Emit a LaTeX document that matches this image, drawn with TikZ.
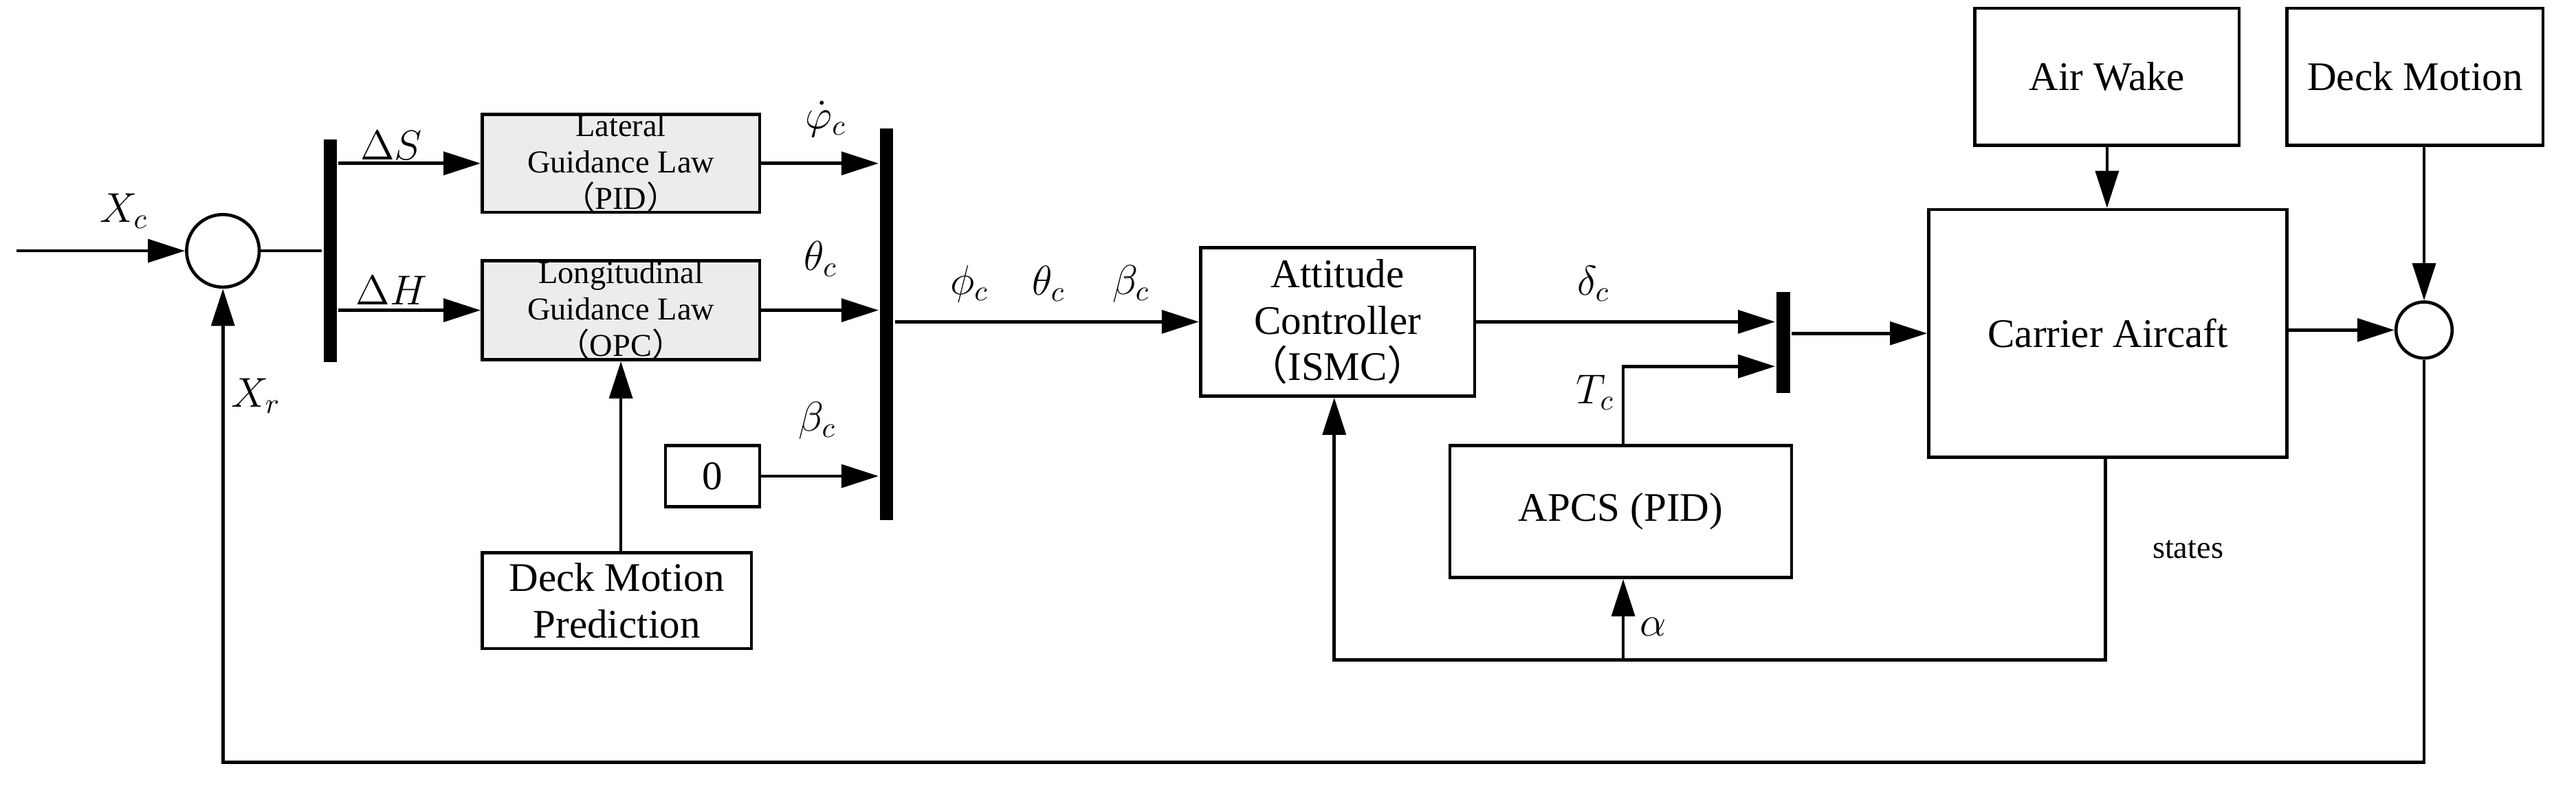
\documentclass[tikz,border=0pt]{standalone}
\usepackage{fontspec}
\setmainfont{Liberation Serif}
\newfontfamily\cjk{Noto Sans CJK SC}
\newcommand{\lp}{{\cjk （}}
\newcommand{\rp}{{\cjk ）}}
\usetikzlibrary{arrows.meta,positioning}
\begin{document}
\begin{tikzpicture}[x=0.02cm,y=-0.02cm,line width=1.1pt,
  blk/.style={draw,rectangle,inner sep=0pt,font=\fontsize{14}{16}\selectfont,align=center},
  gblk/.style={blk,fill=gray!15,font=\fontsize{11}{12.5}\selectfont},
  bar/.style={fill=black,draw=none,inner sep=0pt},
  sum/.style={draw,circle,inner sep=0pt},
  lab/.style={font=\fontsize{14}{16}\selectfont},
  >={Triangle[length=0.45cm,width=0.28cm]}]
\useasboundingbox (0,0) rectangle (1560,476);
% nodes
\node[sum,minimum size=0.88cm] (s1) at (135,152) {};
\node[bar,minimum width=0.16cm,minimum height=2.7cm] (b1) at (200,152) {};
\node[gblk,minimum width=3.36cm,minimum height=1.16cm] (lat) at (376,99) {Lateral\\Guidance Law\\\lp PID\rp};
\node[gblk,minimum width=3.36cm,minimum height=1.2cm] (lon) at (376,188) {Longitudinal\\Guidance Law\\\lp OPC\rp};
\node[blk,minimum width=1.14cm,minimum height=0.74cm] (zero) at (431.5,288.5) {0};
\node[blk,minimum width=3.26cm,minimum height=1.16cm] (dmp) at (373.5,364) {Deck Motion\\Prediction};
\node[bar,minimum width=0.16cm,minimum height=4.74cm] (b2) at (537,196.5) {};
\node[blk,minimum width=3.32cm,minimum height=1.8cm] (att) at (810,195) {Attitude\\Controller\\\lp ISMC\rp};
\node[bar,minimum width=0.16cm,minimum height=1.22cm] (b3) at (1080,207.5) {};
\node[blk,minimum width=4.14cm,minimum height=1.6cm] (apcs) at (981.5,310) {APCS (PID)};
\node[blk,minimum width=4.34cm,minimum height=3cm] (ca) at (1276.5,202) {Carrier Aircaft};
\node[blk,minimum width=3.2cm,minimum height=1.66cm] (aw) at (1276,46.5) {Air Wake};
\node[blk,minimum width=3.1cm,minimum height=1.66cm] (dm) at (1462.5,46.5) {Deck Motion};
\node[sum,minimum size=0.68cm] (s2) at (1468,200) {};
\coordinate (in) at (10,152);
\coordinate (fbA) at (1468,462);
\coordinate (fbB) at (135,462);
\coordinate (stA) at (1275,400);
\coordinate (stB) at (808,400);
\coordinate (stC) at (983,400);
\coordinate (tcA) at (983,222);
% connectors
\draw[->] (in) -- (s1.west);
\draw (s1.east) -- (s1.east -| b1.west);
\draw[->] (lat.west -| b1.east) -- (lat.west);
\draw[->] (lon.west -| b1.east) -- (lon.west);
\draw[->] (lat.east) -- (lat.east -| b2.west);
\draw[->] (lon.east) -- (lon.east -| b2.west);
\draw[->] (zero.east) -- (zero.east -| b2.west);
\draw[->] (lon.south |- dmp.north) -- (lon.south);
\draw[->] (att.west -| b2.east) -- (att.west);
\draw[->] (att.east) -- (att.east -| b3.west);
\draw[->] (apcs.north -| tcA) -- (tcA) -- (tcA -| b3.west);
\draw[->] (ca.west -| b3.east) -- (ca.west);
\draw[->] (aw.south) -- (aw.south |- ca.north);
\draw[->] (dm.south -| s2) -- (s2.north);
\draw[->] (ca.east |- s2) -- (s2.west);
\draw[->] (ca.south -| stA) -- (stA) -- (stB) -- (stB |- att.south);
\draw[->] (stC) -- (apcs.south -| stC);
\draw[->] (s2.south) -- (fbA) -- (fbB) -- (s1.south);
% labels
\node[lab] at (75,128) {$X_c$};
\node[lab] at (155,240) {$X_r$};
\node[lab] at (237,88) {$\Delta S$};
\node[lab] at (237,176) {$\Delta H$};
\node[lab] at (500,72) {$\dot{\varphi}_c$};
\node[lab] at (497,157) {$\theta_c$};
\node[lab] at (495,255) {$\beta_c$};
\node[lab] at (587,172) {$\phi_c$};
\node[lab] at (635,172) {$\theta_c$};
\node[lab] at (685,172) {$\beta_c$};
\node[lab] at (965,172) {$\delta_c$};
\node[lab] at (966,238) {$T_c$};
\node[lab] at (1001,380) {$\alpha$};
\node[font=\fontsize{11}{13}\selectfont] at (1325,333) {states};
\end{tikzpicture}
\end{document}
